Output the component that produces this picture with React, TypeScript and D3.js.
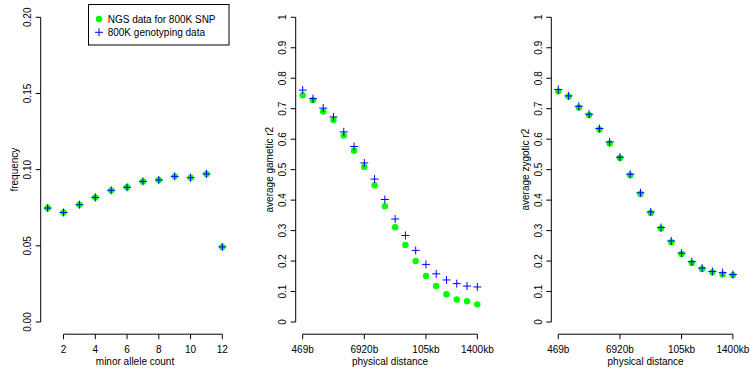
import React from "react";
import * as d3 from "d3";

// ---- data ----
const alleleCounts = [1, 2, 3, 4, 5, 6, 7, 8, 9, 10, 11, 12];
const freqNGS = [0.0748, 0.0719, 0.077, 0.0818, 0.0864, 0.0884, 0.0923, 0.0932, 0.0956, 0.0947, 0.0972, 0.0493];
const freqGeno = [0.0748, 0.0719, 0.077, 0.0818, 0.0864, 0.0884, 0.0923, 0.0932, 0.0956, 0.0947, 0.0972, 0.0493];
const freqTicks = [0, 0.05, 0.1, 0.15, 0.2];
const countTicks = [2, 4, 6, 8, 10, 12];

const distanceBins = [0, 1, 2, 3, 4, 5, 6, 7, 8, 9, 10, 11, 12, 13, 14, 15, 16, 17];
const distanceTickBins = [0, 6, 12, 17];
const distanceTickLabels = ["469b", "6920b", "105kb", "1400kb"];
const r2Ticks = [0, 0.1, 0.2, 0.3, 0.4, 0.5, 0.6, 0.7, 0.8, 0.9, 1];

const gameticNGS = [0.744, 0.728, 0.691, 0.663, 0.612, 0.562, 0.509, 0.449, 0.38, 0.311, 0.253, 0.2, 0.151, 0.118, 0.091, 0.074, 0.068, 0.058];
const gameticGeno = [0.761, 0.733, 0.702, 0.673, 0.624, 0.576, 0.522, 0.469, 0.402, 0.338, 0.284, 0.235, 0.189, 0.158, 0.138, 0.126, 0.118, 0.115];
const zygoticNGS = [0.757, 0.74, 0.704, 0.679, 0.632, 0.586, 0.538, 0.482, 0.42, 0.358, 0.307, 0.262, 0.223, 0.194, 0.174, 0.163, 0.156, 0.154];
const zygoticGeno = [0.763, 0.742, 0.708, 0.682, 0.635, 0.591, 0.541, 0.485, 0.424, 0.361, 0.31, 0.266, 0.226, 0.198, 0.177, 0.166, 0.162, 0.156];

const legendLabels = ["NGS data for 800K SNP", "800K genotyping data"];

const FONT = "'Liberation Sans', Arial, Helvetica, sans-serif";
const GREEN = "#00ff00";
const BLUE = "#0000ff";

type PanelProps = {
  left: number;
  xs: number[];
  ngs: number[];
  geno: number[];
  xTicks: number[];
  xTickLabels: string[];
  yTicks: number[];
  yTickFmt: (v: number) => string;
  xTitle: string;
  yTitle: string;
};

const PLOT_W = 188.6;
const PLOT_BOTTOM = 334.2;
const PLOT_TOP = 5.1;

function Panel(p: PanelProps) {
  const [xmin, xmax] = d3.extent(p.xs) as [number, number];
  const xr = xmax - xmin;
  const x = d3.scaleLinear().domain([xmin - 0.04 * xr, xmax + 0.04 * xr]).range([p.left, p.left + PLOT_W]);
  const ymin = p.yTicks[0];
  const ymax = p.yTicks[p.yTicks.length - 1];
  const yr = ymax - ymin;
  const y = d3.scaleLinear().domain([ymin - 0.04 * yr, ymax + 0.04 * yr]).range([PLOT_BOTTOM, PLOT_TOP]);
  const axisX = p.left;
  const axisY = PLOT_BOTTOM;
  const tl = 5;
  const yMid = (y(ymin) + y(ymax)) / 2;
  const xMid = (x(xmin) + x(xmax)) / 2;
  const cs = 4;
  return (
    <g fontFamily={FONT} fontSize={10} fill="#000">
      {/* y axis */}
      <line x1={axisX} x2={axisX} y1={y(ymin)} y2={y(ymax)} stroke="#000" strokeWidth={1} />
      {p.yTicks.map((t) => (
        <g key={"yt" + t}>
          <line x1={axisX - tl} x2={axisX} y1={y(t)} y2={y(t)} stroke="#000" />
          <text
            transform={`translate(${axisX - 13},${y(t)}) rotate(-90)`}
            textAnchor="middle"
            dominantBaseline="central"
          >
            {p.yTickFmt(t)}
          </text>
        </g>
      ))}
      <text transform={`translate(${axisX - 26},${yMid}) rotate(-90)`} textAnchor="middle" dominantBaseline="central">
        {p.yTitle}
      </text>
      {/* x axis */}
      <line
        x1={x(p.xTicks[0])}
        x2={x(p.xTicks[p.xTicks.length - 1])}
        y1={axisY}
        y2={axisY}
        stroke="#000"
      />
      {p.xTicks.map((t, i) => (
        <g key={"xt" + t}>
          <line x1={x(t)} x2={x(t)} y1={axisY} y2={axisY + tl} stroke="#000" />
          <text x={x(t)} y={349.3} textAnchor="middle" dominantBaseline="central">
            {p.xTickLabels[i]}
          </text>
        </g>
      ))}
      <text x={xMid} y={361.7} textAnchor="middle" dominantBaseline="central">
        {p.xTitle}
      </text>
      {/* points */}
      {p.xs.map((v, i) => (
        <circle key={"g" + i} cx={x(v)} cy={y(p.ngs[i])} r={3.2} fill={GREEN} />
      ))}
      {p.xs.map((v, i) => {
        const cx = x(v);
        const cy = y(p.geno[i]);
        return (
          <path
            key={"b" + i}
            d={`M${cx - cs},${cy}H${cx + cs}M${cx},${cy - cs}V${cy + cs}`}
            stroke={BLUE}
            strokeWidth={1}
            fill="none"
          />
        );
      })}
    </g>
  );
}

export default function App() {
  return (
    <div style={{ position: "absolute", left: 0, top: 0 }}>
      <svg width={750} height={373} style={{ display: "block", background: "#fff" }}>
        <rect width={750} height={373} fill="#fff" />
        <Panel
          left={40.7}
          xs={alleleCounts}
          ngs={freqNGS}
          geno={freqGeno}
          xTicks={countTicks}
          xTickLabels={countTicks.map(String)}
          yTicks={freqTicks}
          yTickFmt={(v) => d3.format(".2f")(v)}
          xTitle="minor allele count"
          yTitle="frequency"
        />
        <Panel
          left={295.7}
          xs={distanceBins}
          ngs={gameticNGS}
          geno={gameticGeno}
          xTicks={distanceTickBins}
          xTickLabels={distanceTickLabels}
          yTicks={r2Ticks}
          yTickFmt={(v) => String(+v.toFixed(1))}
          xTitle="physical distance"
          yTitle="average gametic r2"
        />
        <Panel
          left={551.3}
          xs={distanceBins}
          ngs={zygoticNGS}
          geno={zygoticGeno}
          xTicks={distanceTickBins}
          xTickLabels={distanceTickLabels}
          yTicks={r2Ticks}
          yTickFmt={(v) => String(+v.toFixed(1))}
          xTitle="physical distance"
          yTitle="average zygotic r2"
        />
        {/* legend */}
        <g fontFamily={FONT} fontSize={10}>
          <rect x={88.5} y={4.5} width={140.5} height={40.5} fill="#fff" stroke="#000" strokeWidth={1} />
          <circle cx={99} cy={19} r={3.2} fill={GREEN} />
          <text x={107.7} y={19} dominantBaseline="central">{legendLabels[0]}</text>
          <path d={`M${95},${32.3}H${103}M${99},${28.3}V${36.3}`} stroke={BLUE} strokeWidth={1} fill="none" />
          <text x={107.7} y={32.3} dominantBaseline="central">{legendLabels[1]}</text>
        </g>
      </svg>
    </div>
  );
}
